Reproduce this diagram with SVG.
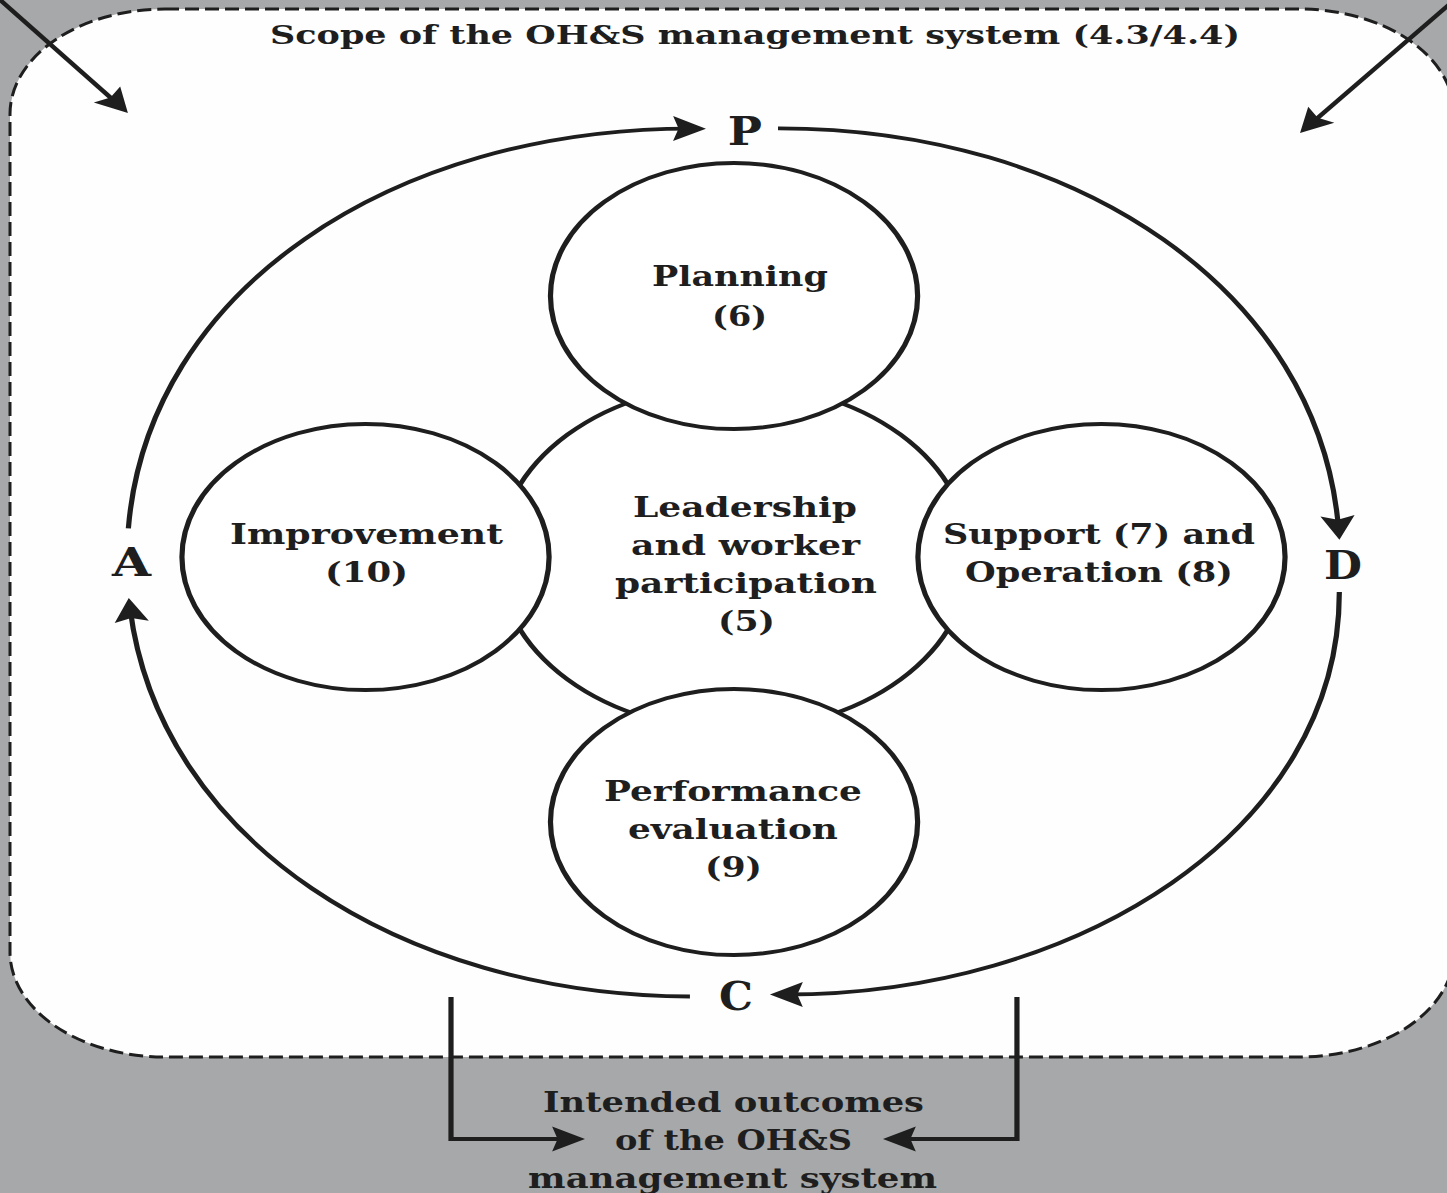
<svg xmlns="http://www.w3.org/2000/svg" width="1447" height="1193" viewBox="0 0 1447 1193">
<style>
.t{font-family:"DejaVu Serif","Liberation Serif",serif;font-weight:bold;fill:#1e1e1e;text-anchor:middle}
.b{font-size:28px}
.l{font-size:40px}
.ti{font-size:26px}
.c{fill:#fff;stroke:#1e1e1e;stroke-width:3.8}
.a{fill:none;stroke:#1e1e1e;stroke-width:3.8;marker-end:url(#ah)}
</style>
<defs>
<marker id="ah" markerUnits="userSpaceOnUse" markerWidth="40" markerHeight="40" viewBox="-20 -20 40 40" refX="0" refY="0" orient="auto">
<path d="M10,0 L-14,-12.5 L-10,0 L-14,12.5 z" fill="#1e1e1e"/>
</marker>
</defs>
<rect x="0" y="0" width="1447" height="1193" fill="#a6a8a9"/>
<g id="scope">
<rect x="10" y="9" width="1444" height="1048" rx="155" ry="105" fill="#fefefe" stroke="#1e1e1e" stroke-width="3" stroke-dasharray="14 6"/>
</g>
<g transform="scale(1.37,1)">
<g id="scope-title"><text class="t ti" x="551.1" y="44" textLength="708" lengthAdjust="spacingAndGlyphs">Scope of the OH&amp;S management system (4.3/4.4)</text></g>
<g id="connectors">
<path class="a" d="M-4,-5 L87,105.3"/>
<path class="a" d="M1065.2,-4.3 L955.4,125.4"/>
<path class="a" d="M93.7,528.3 C108.1,290.4 285.4,128 505.3,128.6"/>
<path class="a" d="M567.9,128.3 C785.96,128 963.3,291.1 977.1,529.8"/>
<path class="a" d="M977.6,592 C978,830.9 785.9,995 572,994.5"/>
<path class="a" d="M503.6,996.5 C291,995 116.1,838.8 94.9,608"/>
<path class="a" d="M329.2,997 L329.2,1139 L417,1139"/>
<path class="a" d="M742.3,997 L742.3,1139 L654.5,1139"/>
</g>
<g id="label-P"><text class="t l" x="543.8" y="145" textLength="25" lengthAdjust="spacingAndGlyphs">P</text></g>
<g id="label-D"><text class="t l" x="980.3" y="579" textLength="27.7" lengthAdjust="spacingAndGlyphs">D</text></g>
<g id="label-C"><text class="t l" x="537.2" y="1010" textLength="24.8" lengthAdjust="spacingAndGlyphs">C</text></g>
<g id="label-A"><text class="t l" x="96" y="576" textLength="28.5" lengthAdjust="spacingAndGlyphs">A</text></g>
<g id="leadership">
<ellipse class="c" cx="535.8" cy="557" rx="172" ry="173"/>
<text class="t b" x="543.8" y="517" textLength="163.5" lengthAdjust="spacingAndGlyphs">Leadership</text>
<text class="t b" x="544.2" y="555" textLength="167.2" lengthAdjust="spacingAndGlyphs">and worker</text>
<text class="t b" x="544.5" y="593" textLength="191.2" lengthAdjust="spacingAndGlyphs">participation</text>
<text class="t b" x="544.9" y="631" textLength="41.6" lengthAdjust="spacingAndGlyphs">(5)</text>
</g>
<g id="planning">
<ellipse class="c" cx="535.8" cy="296" rx="134" ry="133"/>
<text class="t b" x="540.1" y="286" textLength="128.5" lengthAdjust="spacingAndGlyphs">Planning</text>
<text class="t b" x="539.8" y="326" textLength="40.1" lengthAdjust="spacingAndGlyphs">(6)</text>
</g>
<g id="improvement">
<ellipse class="c" cx="266.8" cy="557" rx="134" ry="133"/>
<text class="t b" x="267.5" y="544" textLength="199.3" lengthAdjust="spacingAndGlyphs">Improvement</text>
<text class="t b" x="267.5" y="582" textLength="60.6" lengthAdjust="spacingAndGlyphs">(10)</text>
</g>
<g id="support-operation">
<ellipse class="c" cx="804" cy="557" rx="134" ry="133"/>
<text class="t b" x="802.2" y="544" textLength="227.7" lengthAdjust="spacingAndGlyphs">Support (7) and</text>
<text class="t b" x="802.2" y="582" textLength="195.6" lengthAdjust="spacingAndGlyphs">Operation (8)</text>
</g>
<g id="performance">
<ellipse class="c" cx="535.8" cy="822" rx="134" ry="133"/>
<text class="t b" x="535" y="801" textLength="188.3" lengthAdjust="spacingAndGlyphs">Performance</text>
<text class="t b" x="535" y="839" textLength="153.3" lengthAdjust="spacingAndGlyphs">evaluation</text>
<text class="t b" x="535.4" y="877" textLength="41.6" lengthAdjust="spacingAndGlyphs">(9)</text>
</g>
<g id="outcomes">
<text class="t b" x="535.4" y="1112" textLength="278.1" lengthAdjust="spacingAndGlyphs">Intended outcomes</text>
<text class="t b" x="535.4" y="1150" textLength="173" lengthAdjust="spacingAndGlyphs">of the OH&amp;S</text>
<text class="t b" x="534.7" y="1188" textLength="298.5" lengthAdjust="spacingAndGlyphs">management system</text>
</g>
</g>
</svg>
